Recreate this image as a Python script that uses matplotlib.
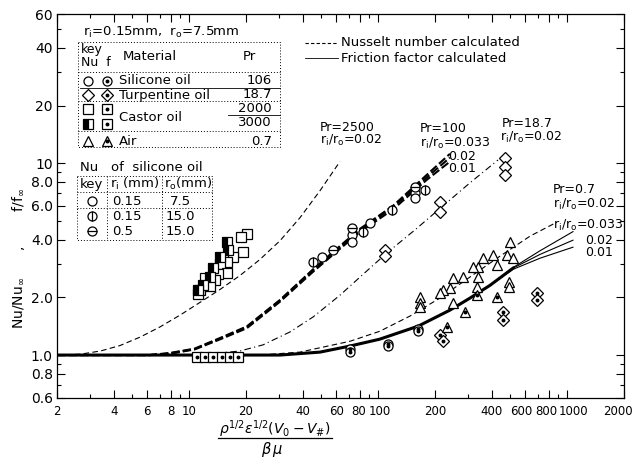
import matplotlib
matplotlib.use('Agg')
import matplotlib.pyplot as plt
from matplotlib.ticker import FixedLocator, NullFormatter
from matplotlib.transforms import ScaledTranslation

plt.rcParams['font.family'] = ['DejaVu Sans']
plt.rcParams['mathtext.fontset'] = 'dejavusans'

# ---- calculated curves ----
# Nusselt number, Pr = 2500, ri/ro = 0.02
x_nu2500 = [2, 2.65, 3.4, 4.3, 5.5, 7.0, 9.0, 11.4, 14.6, 18.6, 23.7, 30.3, 38.6, 49.3, 62.8]
y_nu2500 = [1.0, 1.01, 1.05, 1.12, 1.24, 1.40, 1.62, 1.88, 2.2, 2.6, 3.15, 3.95, 5.2, 7.2, 10.2]

# Nusselt number, Pr = 100, ri/ro = 0.033 / 0.02 / 0.01
x_nu100 = [2, 6.2, 7.9, 10.7, 14.8, 20.2, 30.3, 45.3, 62.8, 80.2, 120, 181, 240]
y_nu100_033 = [1.0, 1.0, 1.025, 1.08, 1.235, 1.41, 1.94, 2.8, 3.7, 4.55, 6.0, 8.7, 11.2]
y_nu100_02 = [1.0, 1.0, 1.02, 1.075, 1.225, 1.40, 1.93, 2.77, 3.65, 4.48, 5.9, 8.45, 10.7]
y_nu100_01 = [1.0, 1.0, 1.015, 1.07, 1.215, 1.38, 1.9, 2.72, 3.58, 4.38, 5.75, 8.2, 10.2]

# Nusselt number, Pr = 18.7, ri/ro = 0.02
x_nu187 = [2, 11.4, 18.6, 24.6, 34.2, 45.3, 62.8, 80.2, 111, 157, 212, 306, 431]
y_nu187 = [1.0, 1.0, 1.05, 1.13, 1.32, 1.58, 2.05, 2.55, 3.4, 4.5, 5.8, 7.9, 10.4]

# Nusselt number, Pr = 0.7, ri/ro = 0.02
x_nu07 = [2, 23.7, 38.6, 71, 102, 148, 212, 306, 442, 637, 883]
y_nu07 = [1.0, 1.0, 1.036, 1.18, 1.33, 1.6, 1.98, 2.55, 3.28, 4.17, 4.93]

# friction factor, Pr = 0.7, ri/ro = 0.033 / 0.02 / 0.01
x_f07 = [2, 30.3, 49.3, 71, 102, 163, 240, 306, 391, 518, 720, 1074]
y_f07_033 = [1.0, 1.0, 1.036, 1.114, 1.21, 1.415, 1.715, 1.98, 2.31, 2.86, 3.5, 4.4]
y_f07_02 = [1.0, 1.0, 1.036, 1.114, 1.21, 1.415, 1.715, 1.98, 2.31, 2.84, 3.35, 3.97]
y_f07_01 = [1.0, 1.0, 1.036, 1.114, 1.21, 1.415, 1.715, 1.98, 2.31, 2.80, 3.2, 3.65]

# ---- measurements ----
# silicone oil Nu: ri=0.15/ro=7.5 (o), 0.15/15.0 (phi), 0.5/15.0 (theta)
si_nu_x = [50.5, 72.7, 72.7, 90.6, 157, 157]
si_nu_y = [3.24, 4.22, 3.88, 4.87, 6.98, 6.57]
si_nu_phi_x = [45.2, 83.2, 118, 177]
si_nu_phi_y = [3.05, 4.37, 5.69, 7.23]
si_nu_th_x = [57.7, 72.7, 157]
si_nu_th_y = [3.52, 4.59, 7.5]
si_f_x = [71, 71, 113, 113, 163, 163]
si_f_y = [1.07, 1.04, 1.14, 1.11, 1.37, 1.33]

# turpentine oil
tu_nu_x = [109, 109, 212, 212, 469, 469, 469]
tu_nu_y = [3.52, 3.28, 6.25, 5.55, 10.6, 9.52, 8.65]
tu_f_x = [212, 220, 458, 458, 693, 693]
tu_f_y = [1.27, 1.18, 1.675, 1.52, 2.10, 1.93]

# castor oil
ca2000_x = [20.2, 18.9, 19.3, 17.1, 15.9, 14.6, 15.9, 14.2, 12.1, 13.7, 12.9, 11.4, 11.1]
ca2000_y = [4.27, 4.12, 3.44, 3.24, 3.05, 2.98, 2.67, 2.64, 2.52, 2.46, 2.29, 2.18, 2.08]
ca3000_x = [15.9, 16.1, 14.6, 13.4, 12.9, 11.8, 11.1]
ca3000_y = [3.88, 3.52, 3.24, 2.84, 2.55, 2.31, 2.18]
ca_f_x = [11.0, 12.1, 13.4, 14.9, 16.5, 18.1]
ca_f_y = [0.98, 0.98, 0.98, 0.98, 0.98, 0.98]

# air
air_nu_x = [499, 481, 406, 426, 359, 338, 318, 338, 281, 249, 240, 220, 212,
            167, 167, 167, 334, 490, 490, 518, 249]
air_nu_y = [3.88, 3.32, 3.32, 2.94, 3.20, 2.87, 2.87, 2.55, 2.55, 2.52, 2.23, 2.18, 2.10,
            2.00, 1.87, 1.77, 2.26, 2.40, 2.26, 3.20, 1.87]
air_f_x = [334, 426, 288, 231]
air_f_y = [2.05, 2.00, 1.675, 1.40]

x_ticks = [2, 4, 6, 8, 10, 20, 40, 60, 80, 100, 200, 400, 600, 800, 1000, 2000]
y_ticks = [0.6, 0.8, 1.0, 2.0, 4.0, 6.0, 8.0, 10, 20, 40, 60]
y_ticklabels = ['0.6', '0.8', '1.0', '2.0', '4.0', '6.0', '8.0', '10', '20', '40', '60']

W, H = 636, 461
fig = plt.figure(figsize=(W / 100, H / 100), dpi=100)
ax = fig.add_axes([57 / W, 1 - 397.6 / H, (624 - 57) / W, (397.6 - 14) / H])
ax.set_xscale('log')
ax.set_yscale('log')
ax.set_xlim(2, 2000)
ax.set_ylim(0.6, 60)


def marks(a, x, y, kind, z=5):
    size = {'o': 6.5, 'D': 6, 's': 6.5, '^': 7.5}[kind[0]]
    if kind == 'sh':
        a.plot(x, y, ls='none', marker='s', ms=size, mec='k', mfc='k',
               markerfacecoloralt='white', fillstyle='left', mew=0.9, zorder=z, clip_on=False)
        return
    a.plot(x, y, ls='none', marker=kind[0], ms=size, mec='k', mfc='white', mew=0.9,
           zorder=z, clip_on=False)
    if kind.endswith('.'):
        a.plot(x, y, ls='none', marker='o', ms=1.8, color='k', zorder=z + 0.1, clip_on=False)
    elif kind.endswith('|'):
        a.plot(x, y, ls='none', marker='|', ms=size, mew=0.9, color='k', zorder=z + 0.1, clip_on=False)
    elif kind.endswith('-'):
        a.plot(x, y, ls='none', marker='_', ms=size, mew=0.9, color='k', zorder=z + 0.1, clip_on=False)


dash = (0, (5, 3))
ax.plot(x_nu2500, y_nu2500, color='k', lw=0.8, ls=dash)
for yy in (y_nu100_033, y_nu100_02, y_nu100_01):
    ax.plot(x_nu100, yy, color='k', lw=1.5, ls=(0, (4, 1.5)))
ax.plot(x_nu187, y_nu187, color='k', lw=0.8, ls=(0, (6, 3, 1, 3)))
ax.plot(x_nu07, y_nu07, color='k', lw=0.8, ls=dash)
ax.plot(x_f07[:10], y_f07_02[:10], color='k', lw=2.2)
for yy in (y_f07_033, y_f07_02, y_f07_01):
    ax.plot(x_f07, yy, color='k', lw=0.8)

marks(ax, si_nu_x, si_nu_y, 'o')
marks(ax, si_nu_phi_x, si_nu_phi_y, 'o|')
marks(ax, si_nu_th_x, si_nu_th_y, 'o-')
marks(ax, si_f_x, si_f_y, 'o.')
marks(ax, tu_nu_x, tu_nu_y, 'D')
marks(ax, tu_f_x, tu_f_y, 'D.')
marks(ax, ca2000_x, ca2000_y, 's')
marks(ax, ca3000_x, ca3000_y, 'sh')
marks(ax, ca_f_x, ca_f_y, 's.')
marks(ax, air_nu_x, air_nu_y, '^')
marks(ax, air_f_x, air_f_y, '^.')

ax.xaxis.set_major_locator(FixedLocator(x_ticks))
ax.set_xticklabels([str(t) for t in x_ticks], fontsize=8.5)
ax.xaxis.set_minor_locator(FixedLocator([3, 5, 7, 9, 30, 50, 70, 90, 300, 500, 700, 900]))
ax.xaxis.set_minor_formatter(NullFormatter())
ax.yaxis.set_major_locator(FixedLocator(y_ticks))
ax.set_yticklabels(y_ticklabels, fontsize=10)
ax.yaxis.set_minor_locator(FixedLocator([0.7, 0.9, 3, 5, 7, 9, 30, 50]))
ax.yaxis.set_minor_formatter(NullFormatter())
ax.tick_params(which='both', direction='in', top=True, right=True, width=0.8)
ax.tick_params(which='major', length=6)
ax.tick_params(which='minor', length=3)
ax.tick_params(axis='x', pad=5)
ax.tick_params(axis='y', pad=3)

# crowded x labels: small sideways nudges (pixels)
nudge = {80: -1, 100: 1.5, 600: -4, 800: -2, 1000: 6, 2000: -6}
for t, lab in zip(x_ticks, ax.get_xticklabels()):
    if t in nudge:
        lab.set_transform(lab.get_transform() +
                          ScaledTranslation(nudge[t] / 100, 0, fig.dpi_scale_trans))
for s in ax.spines.values():
    s.set_linewidth(0.9)
    s.set_linestyle((0, (6, 1)))

# overlay in pixel units for the key tables and labels
ov = fig.add_axes([0, 0, 1, 1], zorder=10)
ov.set_xlim(0, W)
ov.set_ylim(H, 0)
ov.axis('off')


def txt(x, y, s, size=9.5, **kw):
    ov.text(x, y, s, fontsize=size, va='center', ha=kw.pop('ha', 'left'), **kw)


def dotted(xs, ys):
    ov.plot(xs, ys, color='k', lw=0.7, ls=(0, (1, 2)))


# axis labels
ov.text(19, 258, r'Nu/Nu$_\infty$      ,        f/f$_\infty$', rotation=90, fontsize=10,
        ha='center', va='center')
txt(275, 429, r'$\rho^{1/2}\varepsilon^{1/2}(V_0-V_\#)$', size=10, ha='center')
ov.plot([218, 332], [438, 438], color='k', lw=0.9)
txt(272, 449, r'$\beta\,\mu$', size=10.5, ha='center')

# key table 1
txt(83, 32, r'r$_\mathrm{i}$=0.15mm,  r$_\mathrm{o}$=7.5mm', size=9.5)
dotted([78, 280, 280, 78, 78], [42, 42, 147, 147, 42])
dotted([78, 280], [72, 72])
dotted([78, 280], [101, 101])
dotted([78, 280], [131, 131])
ov.plot([80, 280], [88, 88], color='k', lw=0.6)
ov.plot([228, 280], [115, 115], color='k', lw=0.6)
txt(81, 50, 'key', size=9)
txt(81, 63, 'Nu  f', size=9)
txt(123, 56, 'Material', size=9.5)
txt(243, 56, 'Pr', size=9.5)
rows_y = [81, 95, 109, 124, 141]
for yy, k1, k2 in zip(rows_y, ['o', 'D', 's', 'sh', '^'], ['o.', 'D.', 's.', 's.', '^.']):
    marks(ov, [88], [yy], k1, z=11)
    marks(ov, [107], [yy], k2, z=11)
txt(119, 81, 'Silicone oil')
txt(119, 95, 'Turpentine oil')
txt(119, 117, 'Castor oil')
txt(119, 141, 'Air')
txt(272, 80, '106', ha='right')
txt(272, 95, '18.7', ha='right')
txt(272, 108, '2000', ha='right')
txt(272, 122, '3000', ha='right')
txt(272, 141, '0.7', ha='right')

# key table 2
txt(80, 167, 'Nu   of  silicone oil', size=9.5)
dotted([77, 212, 212, 77, 77], [176, 176, 240, 240, 176])
dotted([107, 107], [176, 240])
dotted([162, 162], [176, 240])
dotted([77, 212], [192, 192])
dotted([77, 212], [208, 208])
txt(80, 184, 'key', size=9.5)
txt(110, 184, r'r$_\mathrm{i}$ (mm)', size=9.5)
txt(164, 184, r'r$_\mathrm{o}$(mm)', size=9.5)
for yy, k, ri, ro in zip([201, 216, 231], ['o', 'o|', 'o-'], ['0.15', '0.15', '0.5'],
                         ['7.5', '15.0', '15.0']):
    marks(ov, [92], [yy], k, z=11)
    txt(112, yy, ri)
    txt(180, yy, ro, ha='center')

# line key
ov.plot([305, 338], [43, 43], color='k', lw=0.8, ls=(0, (3, 2)))
txt(341, 43, 'Nusselt number calculated', size=9.5)
ov.plot([305, 338], [58, 58], color='k', lw=0.6)
txt(341, 58, 'Friction factor calculated', size=9.5)

# curve labels
rr = r'r$_\mathrm{i}$/r$_\mathrm{o}$'
txt(320, 127, 'Pr=2500', size=9)
txt(320, 140, rr + '=0.02', size=9)
txt(420, 128, 'Pr=100', size=9)
txt(420, 143, rr + '=0.033', size=9)
txt(448, 156, '0.02', size=9)
txt(448, 168, '0.01', size=9)
txt(502, 123, 'Pr=18.7', size=9)
txt(500, 137, rr + '=0.02', size=9)
txt(553, 189, 'Pr=0.7', size=9)
txt(553, 204, rr + '=0.02', size=9)
txt(553, 225, rr + '=0.033', size=9)
txt(585, 240, '0.02', size=9)
txt(585, 252, '0.01', size=9)

fig.savefig('out.png', dpi=100)
